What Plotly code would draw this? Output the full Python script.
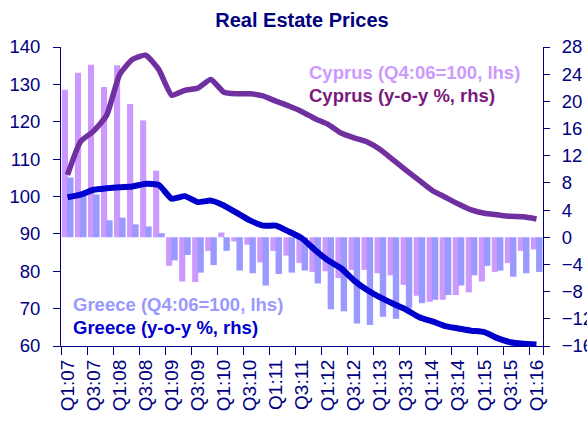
import plotly.graph_objects as go

quarters = ["Q1:07", "Q2:07", "Q3:07", "Q4:07", "Q1:08", "Q2:08", "Q3:08", "Q4:08",
            "Q1:09", "Q2:09", "Q3:09", "Q4:09", "Q1:10", "Q2:10", "Q3:10", "Q4:10",
            "Q1:11", "Q2:11", "Q3:11", "Q4:11", "Q1:12", "Q2:12", "Q3:12", "Q4:12",
            "Q1:13", "Q2:13", "Q3:13", "Q4:13", "Q1:14", "Q2:14", "Q3:14", "Q4:14",
            "Q1:15", "Q2:15", "Q3:15", "Q4:15", "Q1:16"]
tick_labels = ["Q1:07", "Q3:07", "Q1:08", "Q3:08", "Q1:09", "Q3:09", "Q1:10", "Q3:10",
               "Q1:11", "Q3:11", "Q1:12", "Q3:12", "Q1:13", "Q3:13", "Q1:14", "Q3:14",
               "Q1:15", "Q3:15", "Q1:16"]

# bars (right-hand axis)
cyprus_bars = [21.7, 24.2, 25.4, 22.1, 25.3, 19.6, 17.2, 9.8, -4.2, -6.5, -6.6, -2.0, 0.7,
               -0.6, -1.1, -3.7, -2.0, -2.7, -3.8, -5.1, -5.0, -6.0, -4.8, -4.8, -5.3, -5.6,
               -7.0, -8.6, -9.5, -9.2, -8.5, -8.1, -6.5, -5.1, -3.8, -2.0, -1.8]
greece_bars = [8.8, 6.2, 6.3, 2.5, 2.9, 1.9, 1.6, 0.6, -3.4, -2.6, -5.2, -4.1, -2.0,
               -4.9, -5.3, -7.1, -5.4, -5.2, -4.9, -6.8, -10.6, -10.9, -12.7, -12.9, -11.7,
               -12.0, -10.4, -9.7, -9.2, -8.5, -7.1, -5.6, -4.2, -4.9, -5.8, -5.3, -5.1]

# lines (left-hand axis)
cyprus_line = [105.8, 114.7, 117.5, 121.7, 132.6, 136.7, 137.8, 134.0, 127.1, 128.4, 129.0,
               131.3, 127.9, 127.5, 127.5, 126.9, 125.5, 124.2, 122.7, 120.8, 119.3, 117.0,
               115.7, 114.6, 112.6, 109.8, 107.0, 104.3, 101.6, 99.8, 98.0, 96.4, 95.5, 95.1,
               94.7, 94.6, 94.0]
greece_line = [99.8, 100.5, 101.8, 102.2, 102.5, 102.7, 103.4, 103.1, 99.4, 100.1, 98.5,
               98.9, 97.6, 95.6, 93.6, 92.2, 92.2, 90.6, 88.8, 85.7, 82.9, 80.8, 77.5, 75.0,
               73.0, 71.3, 69.7, 67.7, 66.6, 65.3, 64.7, 64.1, 63.7, 62.1, 61.0, 60.6, 60.4]

NAVY = "#000080"
FONT = "Arial, Liberation Sans, sans-serif"

fig = go.Figure()
fig.add_trace(go.Bar(x=quarters, y=cyprus_bars, marker_color="#CC99FF", marker_line_width=0,
                     width=0.47, offset=-0.43, yaxis="y", name="Cyprus bars"))
fig.add_trace(go.Bar(x=quarters, y=greece_bars, marker_color="#9999FF", marker_line_width=0,
                     width=0.49, offset=-0.03, yaxis="y", name="Greece bars"))
fig.add_trace(go.Scatter(x=quarters, y=cyprus_line, mode="lines", yaxis="y2",
                         line=dict(color="#7030A0", width=5.5, shape="spline", smoothing=0.5),
                         name="Cyprus line"))
fig.add_trace(go.Scatter(x=quarters, y=greece_line, mode="lines", yaxis="y2",
                         line=dict(color="#0000CC", width=6, shape="spline", smoothing=0.5),
                         name="Greece line"))

fig.update_layout(
    width=587, height=422,
    margin=dict(l=61, r=44, t=47, b=76, autoexpand=False),
    plot_bgcolor="white", paper_bgcolor="white",
    barmode="overlay", showlegend=False,
    font=dict(family=FONT, color=NAVY, size=18),
    title=dict(text="<b>Real Estate Prices</b>", x=0.5, xref="paper", xanchor="center",
               y=1 - 20 / 422, yanchor="middle", automargin=False,
               font=dict(size=20, color=NAVY, family=FONT)),
    xaxis=dict(type="category", categoryorder="array", categoryarray=quarters,
               range=[-0.5, 36.5], tickmode="array", tickvals=tick_labels, ticktext=tick_labels,
               tickangle=-90, tickson="boundaries", ticks="outside", ticklen=8, tickcolor=NAVY,
               showline=True, linecolor=NAVY, linewidth=1, showgrid=False, zeroline=False,
               automargin=False, ticklabelstandoff=5,
               tickfont=dict(size=19, color=NAVY, family=FONT)),
    yaxis=dict(side="right", range=[-16, 28], dtick=4, tick0=0, ticks="outside", ticklen=6,
               tickcolor=NAVY, showline=True, linecolor=NAVY, linewidth=1, showgrid=False,
               zeroline=False, automargin=False, ticklabelstandoff=8,
               tickfont=dict(size=18.5, color=NAVY, family=FONT)),
    yaxis2=dict(side="left", overlaying="y", range=[60, 140], dtick=10, ticks="outside",
                ticklen=7, tickcolor=NAVY, showline=True, linecolor=NAVY, linewidth=1,
                showgrid=False, zeroline=False, automargin=False, ticklabelstandoff=9,
                tickfont=dict(size=18.5, color=NAVY, family=FONT)),
)

ann = [
    ("<b>Cyprus (Q4:06=100, lhs)</b>", "#CC99FF", 0.5108, 0.9163),
    ("<b>Cyprus (y-o-y %, rhs)</b>", "#7A1A7E", 0.5108, 0.8384),
    ("<b>Greece (Q4:06=100, lhs)</b>", "#9999FF", 0.0208, 0.1379),
    ("<b>Greece (y-o-y %, rhs)</b>", "#0000CC", 0.0208, 0.0629),
]
for text, col, ax, ay in ann:
    fig.add_annotation(text=text, x=ax, y=ay, xref="paper", yref="paper", xanchor="left",
                       yanchor="middle", showarrow=False,
                       font=dict(size=18.5, color=col, family=FONT))

fig.write_html("out.html", config={"displayModeBar": False},
               post_script="document.body.style.margin='0px';document.body.style.overflow='hidden';")
